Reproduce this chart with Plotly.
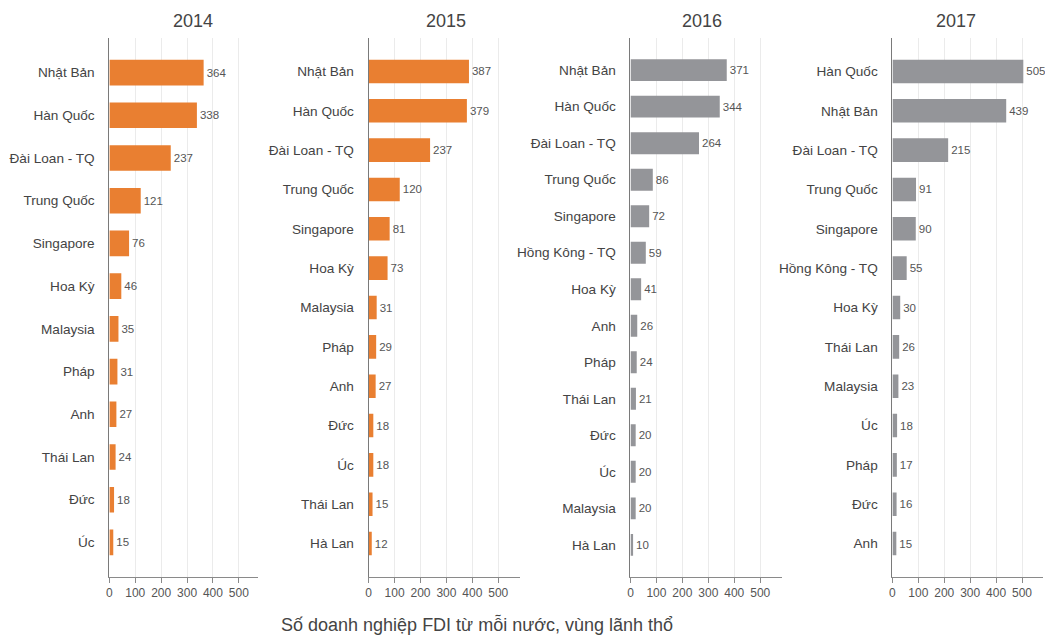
import plotly.graph_objects as go

years = ["2014", "2015", "2016", "2017"]

countries_2014 = ["Nhật Bản", "Hàn Quốc", "Đài Loan - TQ", "Trung Quốc", "Singapore", "Hoa Kỳ",
                  "Malaysia", "Pháp", "Anh", "Thái Lan", "Đức", "Úc"]
values_2014 = [364, 338, 237, 121, 76, 46, 35, 31, 27, 24, 18, 15]

countries_2015 = ["Nhật Bản", "Hàn Quốc", "Đài Loan - TQ", "Trung Quốc", "Singapore", "Hoa Kỳ",
                  "Malaysia", "Pháp", "Anh", "Đức", "Úc", "Thái Lan", "Hà Lan"]
values_2015 = [387, 379, 237, 120, 81, 73, 31, 29, 27, 18, 18, 15, 12]

countries_2016 = ["Nhật Bản", "Hàn Quốc", "Đài Loan - TQ", "Trung Quốc", "Singapore", "Hồng Kông - TQ",
                  "Hoa Kỳ", "Anh", "Pháp", "Thái Lan", "Đức", "Úc", "Malaysia", "Hà Lan"]
values_2016 = [371, 344, 264, 86, 72, 59, 41, 26, 24, 21, 20, 20, 20, 10]

countries_2017 = ["Hàn Quốc", "Nhật Bản", "Đài Loan - TQ", "Trung Quốc", "Singapore", "Hồng Kông - TQ",
                  "Hoa Kỳ", "Thái Lan", "Malaysia", "Úc", "Pháp", "Đức", "Anh"]
values_2017 = [505, 439, 215, 91, 90, 55, 30, 26, 23, 18, 17, 16, 15]

bar_colors = ["#E97F31", "#E97F31", "#949599", "#949599"]
x_ticks = [0, 100, 200, 300, 400, 500]
axis_title = "Số doanh nghiệp FDI từ mỗi nước, vùng lãnh thổ"

W, H = 1045, 636
# layout (pixels)
plot_left = [106.7, 366.7, 629.3, 892.0]
plot_right = [256.0, 518.0, 781.0, 1043.0]
x_max = [575, 582, 583, 581]
y_pad = [0.81, 0.85, 0.88, 0.85]
title_x = [191, 444, 701, 955.5]

all_countries = [countries_2014, countries_2015, countries_2016, countries_2017]
all_values = [values_2014, values_2015, values_2016, values_2017]

FONT = "Liberation Sans, Arial, Helvetica, sans-serif"
fig = go.Figure()
layout = dict(
    width=W, height=H,
    margin=dict(l=0, r=0, t=38, b=59),
    paper_bgcolor="white", plot_bgcolor="white",
    showlegend=False,
    bargap=0.4,
    font=dict(family=FONT, color="#444"),
    annotations=[],
)

for i in range(4):
    sfx = "" if i == 0 else str(i + 1)
    cats = all_countries[i]
    vals = all_values[i]
    fig.add_trace(go.Bar(
        x=vals, y=cats, orientation="h",
        marker=dict(color=bar_colors[i], line=dict(width=0)),
        text=[str(v) for v in vals], textposition="outside",
        textfont=dict(size=11.5, color="#555", family=FONT),
        cliponaxis=False,
        xaxis="x" + sfx, yaxis="y" + sfx,
        hoverinfo="skip",
    ))
    n = len(cats)
    layout["xaxis" + sfx] = dict(
        domain=[plot_left[i] / W, plot_right[i] / W],
        range=[0, x_max[i]],
        anchor="y" + sfx,
        tickvals=x_ticks,
        showgrid=True, gridcolor="#ebebeb", gridwidth=1,
        zeroline=False,
        showline=True, linecolor="#8a8a8a", linewidth=1,
        ticks="outside", ticklen=5, tickcolor="#8a8a8a",
        tickfont=dict(size=12, color="#555", family=FONT),
        fixedrange=True,
    )
    layout["yaxis" + sfx] = dict(
        domain=[0, 1],
        anchor="x" + sfx,
        type="category",
        categoryorder="array", categoryarray=cats,
        range=[n - 1 + y_pad[i], -y_pad[i]],
        showgrid=False, zeroline=False,
        showline=True, linecolor="#7a7a7a", linewidth=1,
        ticks="", ticklabelstandoff=11,
        tickfont=dict(size=13.6, color="#444", family=FONT),
        fixedrange=True,
    )
    layout["annotations"].append(dict(
        text=years[i], x=title_x[i] / W, y=1, xref="paper", yref="paper",
        xanchor="center", yanchor="bottom", yshift=5, showarrow=False,
        font=dict(size=18, color="#444", family=FONT),
    ))

layout["annotations"].append(dict(
    text=axis_title, x=475 / W, y=0, xref="paper", yref="paper",
    xanchor="center", yanchor="top", yshift=-35, showarrow=False,
    font=dict(size=18, color="#444", family=FONT),
))

fig.update_layout(**layout)
fig.write_html("out.html", config={"displayModeBar": False},
               post_script="document.body.style.margin='0';document.body.style.overflow='hidden';")
